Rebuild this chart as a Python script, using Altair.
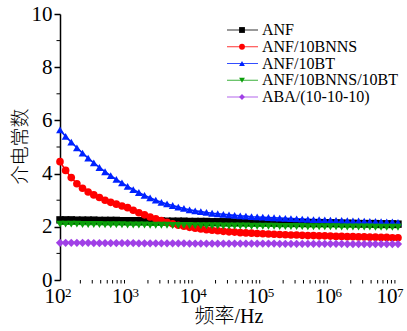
import altair as alt
import pandas as pd

# ---------------- data ----------------
series_names = ["ANF", "ANF/10BNNS", "ANF/10BT", "ANF/10BNNS/10BT", "ABA/(10-10-10)"]
series_colors = ["#000000", "#FF0000", "#0022FF", "#0A9E0A", "#A040E6"]
series_shapes = ["square", "circle", "triangle-up", "triangle-down", "diamond"]
series_marker_sizes = [55, 68, 88, 88, 62]

# measurement grid: 12 points per decade, 10^2 .. 10^7 Hz
freq = [10 ** (2 + i / 12) for i in range(61)]

anf = [2.26, 2.26, 2.26, 2.25, 2.25, 2.25, 2.25, 2.24, 2.24, 2.24, 2.24, 2.23,
       2.23, 2.23, 2.23, 2.22, 2.22, 2.22, 2.22, 2.21, 2.21, 2.21, 2.21, 2.20,
       2.20, 2.20, 2.20, 2.19, 2.19, 2.19, 2.19, 2.18, 2.18, 2.18, 2.18, 2.17,
       2.17, 2.17, 2.16, 2.16, 2.16, 2.16, 2.15, 2.15, 2.15, 2.15, 2.14, 2.14,
       2.14, 2.14, 2.13, 2.13, 2.13, 2.12, 2.12, 2.12, 2.12, 2.11, 2.11, 2.11,
       2.10]
anf_bnns = [4.45, 4.12, 3.85, 3.62, 3.45, 3.31, 3.20, 3.10, 3.00, 2.92, 2.85, 2.78,
            2.72, 2.62, 2.53, 2.45, 2.37, 2.30, 2.23, 2.17, 2.11, 2.06, 2.02, 1.98,
            1.95, 1.92, 1.89, 1.87, 1.85, 1.83, 1.81, 1.80, 1.78, 1.77, 1.76, 1.75,
            1.74, 1.73, 1.72, 1.71, 1.70, 1.69, 1.69, 1.68, 1.67, 1.67, 1.66, 1.66,
            1.65, 1.64, 1.64, 1.63, 1.63, 1.62, 1.62, 1.61, 1.61, 1.60, 1.60, 1.59,
            1.59]
anf_bt = [5.64, 5.40, 5.18, 4.97, 4.77, 4.58, 4.40, 4.23, 4.07, 3.92, 3.78, 3.65,
          3.52, 3.40, 3.29, 3.18, 3.09, 3.00, 2.92, 2.86, 2.80, 2.74, 2.69, 2.64,
          2.60, 2.57, 2.54, 2.51, 2.49, 2.47, 2.45, 2.43, 2.41, 2.40, 2.38, 2.37,
          2.36, 2.35, 2.34, 2.33, 2.32, 2.31, 2.30, 2.29, 2.28, 2.27, 2.27, 2.26,
          2.25, 2.24, 2.24, 2.23, 2.22, 2.22, 2.21, 2.20, 2.20, 2.19, 2.18, 2.18,
          2.17]
anf_bnns_bt = [2.10, 2.10, 2.10, 2.10, 2.09, 2.09, 2.09, 2.09, 2.08, 2.08, 2.08, 2.08,
               2.07, 2.07, 2.07, 2.07, 2.06, 2.06, 2.06, 2.06, 2.05, 2.05, 2.05, 2.05,
               2.04, 2.04, 2.04, 2.04, 2.04, 2.03, 2.03, 2.03, 2.03, 2.03, 2.02, 2.02,
               2.02, 2.02, 2.02, 2.01, 2.01, 2.01, 2.01, 2.01, 2.00, 2.00, 2.00, 2.00,
               2.00, 2.00, 1.99, 1.99, 1.99, 1.99, 1.99, 1.99, 1.98, 1.98, 1.98, 1.98,
               1.98]
aba = [1.40, 1.40, 1.40, 1.40, 1.40, 1.40, 1.39, 1.39, 1.39, 1.39, 1.39, 1.39,
       1.39, 1.39, 1.38, 1.38, 1.38, 1.38, 1.38, 1.38, 1.38, 1.38, 1.38, 1.37,
       1.37, 1.37, 1.37, 1.37, 1.37, 1.37, 1.37, 1.37, 1.37, 1.37, 1.37, 1.37,
       1.37, 1.37, 1.37, 1.36, 1.36, 1.36, 1.36, 1.36, 1.36, 1.36, 1.36, 1.36,
       1.36, 1.36, 1.36, 1.35, 1.35, 1.35, 1.35, 1.35, 1.35, 1.35, 1.35, 1.35,
       1.35]

x_tick_values = [1e2, 1e3, 1e4, 1e5, 1e6, 1e7]
x_tick_exponents = ["2", "3", "4", "5", "6", "7"]
y_tick_values = [0, 2, 4, 6, 8, 10]
y_minor_values = [1, 3, 5, 7, 9]
x_minor_values = [k * 10 ** e for e in range(2, 7) for k in range(2, 10)]
x_title = "频率/Hz"
y_title = "介电常数"

# ---------------- tables ----------------
all_series = [anf, anf_bnns, anf_bt, anf_bnns_bt, aba]
rows = []
for name, vals in zip(series_names, all_series):
    for f, v in zip(freq, vals):
        rows.append({"s": name, "f": f, "v": v})
df = pd.DataFrame(rows)

legend_df = pd.DataFrame({"s": series_names, "row": list(range(len(series_names)))})
xt_df = pd.DataFrame({"f": x_tick_values, "e": x_tick_exponents})
xm_df = pd.DataFrame({"f": x_minor_values})
ym_df = pd.DataFrame({"v": y_minor_values})
title_df = pd.DataFrame({"t": [x_title]})

W, H = 338, 266
SERIF = "Liberation Serif"
CJK = "Liberation Serif, Noto Sans CJK SC"

x_scale = alt.Scale(type="log", domain=[1e2, 1e7], nice=False)
y_scale = alt.Scale(domain=[0, 10], nice=False, zero=False)
color_scale = alt.Scale(domain=series_names, range=series_colors)
shape_scale = alt.Scale(domain=series_names, range=series_shapes)
size_scale = alt.Scale(domain=series_names, range=series_marker_sizes)

x_axis = alt.Axis(values=x_tick_values, labels=False, grid=False, tickSize=6, tickWidth=1.5,
                  tickColor="black", domainColor="black", domainWidth=1.5, title=None)
y_axis = alt.Axis(values=y_tick_values, grid=False, tickSize=6, tickWidth=1.5,
                  tickColor="black", domainColor="black", domainWidth=1.5,
                  labelFont=SERIF, labelFontSize=21, labelColor="black", labelPadding=2,
                  title=y_title, titleFont=CJK, titleFontSize=19, titleFontWeight=300,
                  titleColor="black", titleX=-40, titleY=132, titleAngle=270,
                  titleAlign="center", titleBaseline="middle")

x_main = alt.X("f:Q", scale=x_scale, axis=x_axis)
y_main = alt.Y("v:Q", scale=y_scale, axis=y_axis)
x_plain = alt.X("f:Q", scale=x_scale, axis=None)
y_plain = alt.Y("v:Q", scale=y_scale, axis=None)

lines = alt.Chart(df).mark_line(strokeWidth=1.6).encode(
    x=x_main, y=y_main,
    color=alt.Color("s:N", scale=color_scale, legend=None),
)
points = alt.Chart(df).mark_point(filled=True, opacity=1).encode(
    x=x_plain, y=y_plain,
    color=alt.Color("s:N", scale=color_scale, legend=None),
    shape=alt.Shape("s:N", scale=shape_scale, legend=None),
    size=alt.Size("s:N", scale=size_scale, legend=None),
)

x_minor = alt.Chart(xm_df).mark_rule(color="black", strokeWidth=1).encode(
    x=x_plain, y=alt.value(H), y2=alt.value(H + 3.5)
)
y_minor = alt.Chart(ym_df).mark_rule(color="black", strokeWidth=1).encode(
    y=y_plain, x=alt.value(0), x2=alt.value(-3.5)
)

x_lab10 = alt.Chart(xt_df).transform_filter("datum.f < 5e6").mark_text(
    font=SERIF, fontSize=21, color="black", align="center", baseline="alphabetic", dx=-5
).encode(x=x_plain, y=alt.value(H + 23), text=alt.value("10"))
x_labexp = alt.Chart(xt_df).transform_filter("datum.f < 5e6").mark_text(
    font=SERIF, fontSize=13, color="black", align="left", baseline="alphabetic", dx=5
).encode(x=x_plain, y=alt.value(H + 17), text="e:N")
x_lab10_last = alt.Chart(xt_df).transform_filter("datum.f > 5e6").mark_text(
    font=SERIF, fontSize=21, color="black", align="center", baseline="alphabetic", dx=-11
).encode(x=x_plain, y=alt.value(H + 23), text=alt.value("10"))
x_labexp_last = alt.Chart(xt_df).transform_filter("datum.f > 5e6").mark_text(
    font=SERIF, fontSize=13, color="black", align="left", baseline="alphabetic", dx=-1
).encode(x=x_plain, y=alt.value(H + 17), text="e:N")

x_title_mark = alt.Chart(title_df).mark_text(
    font=CJK, fontSize=20, fontWeight=300, color="black", align="center", baseline="alphabetic"
).encode(x=alt.value(W / 2), y=alt.value(H + 43), text="t:N")

row_y = alt.Y("row:Q", scale=alt.Scale(domain=[0, 4], range=[16, 83]), axis=None)
leg_lines = alt.Chart(legend_df).mark_rule(strokeWidth=1, opacity=0.8).encode(
    x=alt.value(167), x2=alt.value(198), y=row_y,
    color=alt.Color("s:N", scale=color_scale, legend=None),
)
leg_points = alt.Chart(legend_df).mark_point(filled=True, size=34, opacity=1).encode(
    x=alt.value(182), y=row_y,
    color=alt.Color("s:N", scale=color_scale, legend=None),
    shape=alt.Shape("s:N", scale=shape_scale, legend=None),
)
leg_text = alt.Chart(legend_df).mark_text(font=SERIF, fontSize=16, color="black", align="left",
                                          baseline="middle").encode(
    x=alt.value(202), y=row_y, text="s:N"
)

chart = alt.layer(
    lines, points, x_minor, y_minor, x_lab10, x_labexp, x_lab10_last, x_labexp_last,
    x_title_mark, leg_lines, leg_points, leg_text
).resolve_scale(y="independent").properties(
    width=W, height=H,
    padding={"left": 60, "top": 14, "right": 9, "bottom": 51},
    autosize=alt.AutoSizeParams(type="none"),
    background="white",
).configure_view(stroke=None)

chart.save("out.html", embed_options={"renderer": "svg", "actions": False})
